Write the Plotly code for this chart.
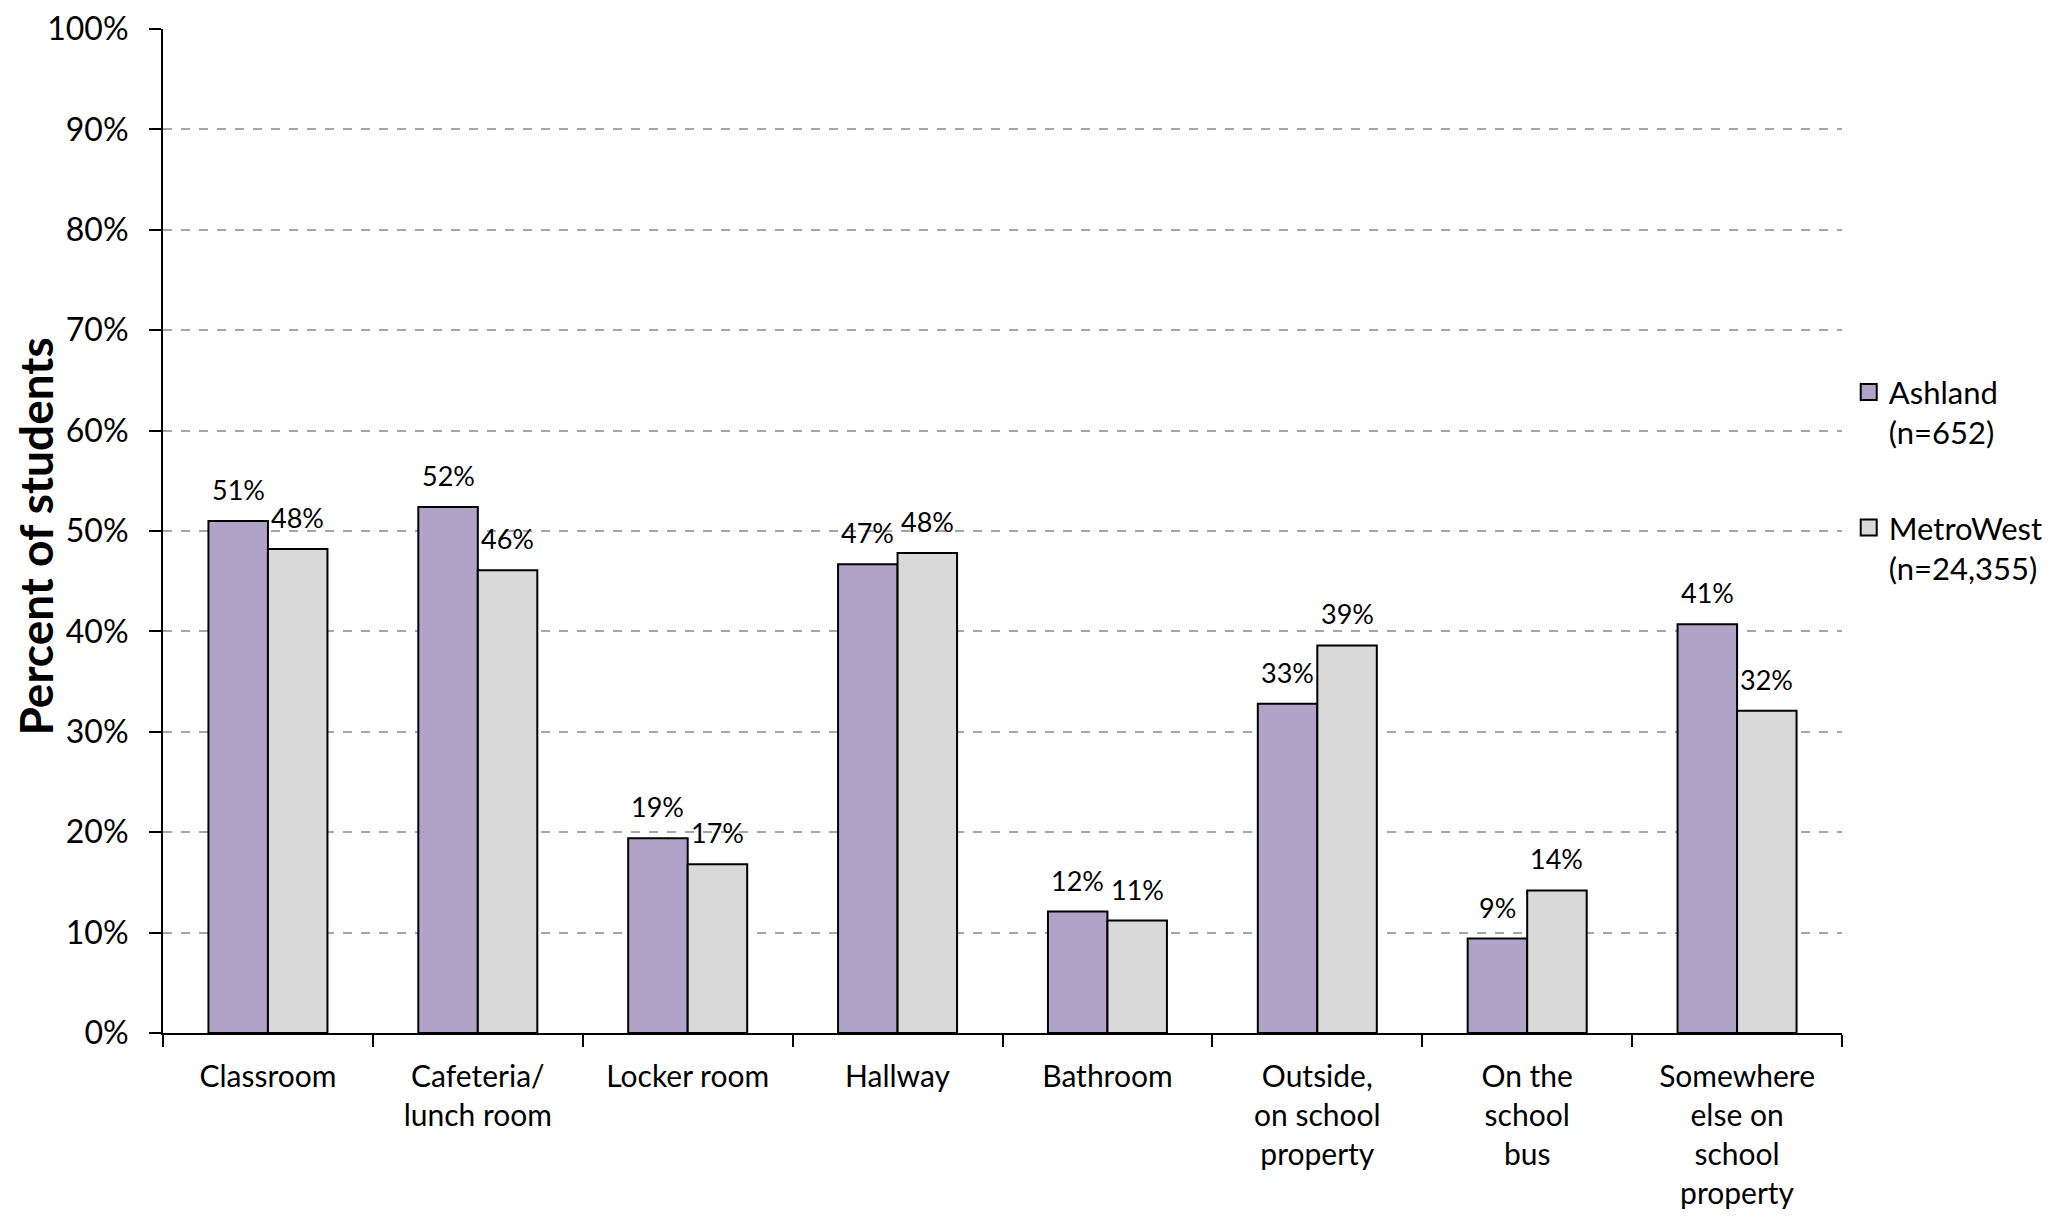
import plotly.graph_objects as go

categories = [
    "Classroom",
    "Cafeteria/<br>lunch room",
    "Locker room",
    "Hallway",
    "Bathroom",
    "Outside,<br>on school<br>property",
    "On the<br>school<br>bus",
    "Somewhere<br>else on<br>school<br>property",
]
ashland = [51.0, 52.4, 19.4, 46.7, 12.1, 32.8, 9.4, 40.7]
metrowest = [48.2, 46.1, 16.8, 47.8, 11.2, 38.6, 14.2, 32.1]
series_names = ["Ashland<br>(n=652)", "MetroWest<br>(n=24,355)"]
y_ticks = list(range(0, 101, 10))

FONT = "Lato, Roboto, sans-serif"
COLORS = ["#B1A2C8", "#D9D9D9"]
BAR_W = 59.5  # px, half-offset of each bar in a group

fig = go.Figure()
for i, (vals, name, color) in enumerate(zip([ashland, metrowest], series_names, COLORS)):
    fig.add_trace(
        go.Bar(
            x=categories,
            y=vals,
            name=name,
            showlegend=False,
            marker=dict(color=color, line=dict(color="black", width=2)),
        )
    )
    # legend entry with a bigger square swatch
    fig.add_trace(
        go.Scatter(
            x=[None],
            y=[None],
            name=name,
            legendgroup="g%d" % i,
            mode="markers",
            marker=dict(symbol="square", size=16, color=color, line=dict(color="black", width=2)),
        )
    )
    # value labels above the bars
    shift = (i - 0.5) * BAR_W
    for cat, v in zip(categories, vals):
        fig.add_annotation(
            x=cat,
            y=v,
            text="%d%%" % round(v),
            showarrow=False,
            xshift=shift,
            yshift=13,
            yanchor="bottom",
            font=dict(size=27, color="black", family=FONT),
        )

# y axis title
fig.add_annotation(
    text="<b>Percent of students</b>",
    xref="paper",
    yref="paper",
    x=-0.0765,
    y=0.494,
    xanchor="center",
    yanchor="middle",
    textangle=-90,
    showarrow=False,
    font=dict(size=46, color="black", family=FONT),
)

fig.update_xaxes(
    showline=True,
    linecolor="black",
    linewidth=2,
    ticks="outside",
    tickson="boundaries",
    ticklen=12,
    tickwidth=2,
    tickcolor="black",
    tickfont=dict(size=30, color="black", family=FONT),
    ticklabelstandoff=16,
    automargin=False,
)
fig.update_yaxes(
    range=[0, 100],
    tickvals=y_ticks,
    ticktext=["%d%%" % t for t in y_ticks],
    showline=True,
    linecolor="black",
    linewidth=2,
    ticks="outside",
    ticklen=12,
    tickwidth=2,
    tickcolor="black",
    tickfont=dict(size=32, color="black", family=FONT),
    ticklabelstandoff=14,
    ticklabeloverflow="allow",
    showgrid=True,
    gridcolor="#A6A6A6",
    griddash="dash",
    gridwidth=1.5,
    zeroline=False,
    automargin=False,
)
fig.update_layout(
    width=2059,
    height=1217,
    barmode="group",
    bargap=0.433,
    bargroupgap=0,
    plot_bgcolor="white",
    paper_bgcolor="white",
    margin=dict(l=155, r=225, t=21, b=192),
    font=dict(family=FONT, color="black"),
    legend=dict(
        x=1.004,
        y=0.665,
        xanchor="left",
        yanchor="top",
        valign="top",
        traceorder="grouped",
        font=dict(size=31, color="black", family=FONT),
        tracegroupgap=52,
    ),
)
fig.write_html("out.html")
